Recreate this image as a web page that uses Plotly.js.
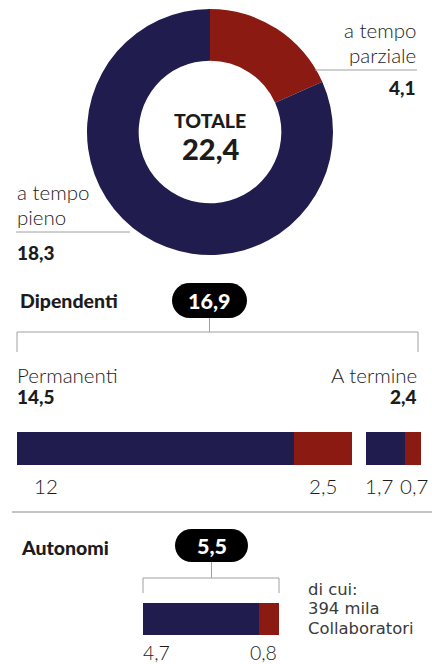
<!DOCTYPE html>
<html>
<head>
<meta charset="utf-8">
<script src="https://cdn.plot.ly/plotly-3.0.1.min.js"></script>
<style>
  html, body { margin: 0; padding: 0; background: #ffffff; }
  #chart { width: 432px; height: 664px; }
</style>
</head>
<body>
<div id="chart"></div>
<script>
// ---- data ----
const donutLabels = ['a tempo parziale', 'a tempo pieno'];
const donutValues = [4.1, 18.3];
const donutTotal = 22.4;

const dipLabel = 'Dipendenti';
const dipTotal = 16.9;
const dipCategories = ['Permanenti', 'A termine'];
const dipTotals = [14.5, 2.4];
const dipNavy = [12, 1.7];
const dipRed = [2.5, 0.7];

const autLabel = 'Autonomi';
const autTotal = 5.5;
const autNavy = [4.7];
const autRed = [0.8];
const autNote = ['di cui:', '394 mila', 'Collaboratori'];

// ---- styles ----
const W = 432, H = 664;
const NAVY = '#211c4e';
const RED = '#8b1b12';
const GREY = '#a0a0a0';
const FONT = 'Lato, "Open Sans", sans-serif';
const NOTE_FONT = '"DejaVu Sans", Lato, sans-serif';
const INK = '#1c1c1c';
const px = x => x / W;
const py = y => 1 - y / H;
const fmt = v => Number.isInteger(v) ? String(v) : v.toFixed(1).replace('.', ',');

const GAP = 0.6;

const traces = [
  {
    type: 'pie',
    labels: donutLabels,
    values: donutValues,
    marker: { colors: [RED, NAVY], line: { width: 0 } },
    hole: 0.58,
    sort: false,
    direction: 'clockwise',
    rotation: 0,
    textinfo: 'none',
    hoverinfo: 'skip',
    showlegend: false,
    domain: { x: [px(210 - 123), px(210 + 123)], y: [py(132 + 123), py(132 - 123)] }
  },
  {
    type: 'bar', orientation: 'h',
    y: dipNavy.map(() => 0),
    x: dipNavy,
    base: [0, dipTotals[0] + GAP],
    width: 1,
    marker: { color: NAVY, line: { width: 0 } },
    xaxis: 'x', yaxis: 'y', hoverinfo: 'skip', showlegend: false
  },
  {
    type: 'bar', orientation: 'h',
    y: dipRed.map(() => 0),
    x: dipRed,
    base: [dipNavy[0], dipTotals[0] + GAP + dipNavy[1]],
    width: 1,
    marker: { color: RED, line: { width: 0 } },
    xaxis: 'x', yaxis: 'y', hoverinfo: 'skip', showlegend: false
  },
  {
    type: 'bar', orientation: 'h',
    y: [0], x: autNavy, base: [0], width: 1,
    marker: { color: NAVY, line: { width: 0 } },
    xaxis: 'x2', yaxis: 'y2', hoverinfo: 'skip', showlegend: false
  },
  {
    type: 'bar', orientation: 'h',
    y: [0], x: autRed, base: [autNavy[0]], width: 1,
    marker: { color: RED, line: { width: 0 } },
    xaxis: 'x2', yaxis: 'y2', hoverinfo: 'skip', showlegend: false
  }
];

function pill(x0, x1, y0, y1) {
  const r = (y1 - y0) / 2, k = 0.5523 * r;
  const P = (x, y) => px(x) + ',' + py(y);
  return 'M' + P(x0 + r, y0) +
    ' L' + P(x1 - r, y0) +
    ' C' + P(x1 - r + k, y0) + ' ' + P(x1, y0 + r - k) + ' ' + P(x1, y0 + r) +
    ' C' + P(x1, y0 + r + k) + ' ' + P(x1 - r + k, y1) + ' ' + P(x1 - r, y1) +
    ' L' + P(x0 + r, y1) +
    ' C' + P(x0 + r - k, y1) + ' ' + P(x0, y0 + r + k) + ' ' + P(x0, y0 + r) +
    ' C' + P(x0, y0 + r - k) + ' ' + P(x0 + r - k, y0) + ' ' + P(x0 + r, y0) + ' Z';
}
function line(x0, y0, x1, y1, color, w) {
  return { type: 'line', xref: 'paper', yref: 'paper', x0: px(x0), y0: py(y0), x1: px(x1), y1: py(y1),
    line: { color: color || GREY, width: w || 1 } };
}
function txt(text, x, y, opts) {
  opts = opts || {};
  return {
    text: text, xref: opts.xref || 'paper', yref: 'paper',
    x: opts.xref ? x : px(x), y: py(y),
    xanchor: opts.xanchor || 'left', yanchor: 'middle',
    xshift: opts.xshift || 0,
    showarrow: false,
    font: { family: opts.family || FONT, size: opts.size || 20.5, color: opts.color || INK, weight: opts.weight || 300 },
    align: opts.xanchor === 'right' ? 'right' : 'left'
  };
}

const shapes = [
  line(315, 70, 417, 70),
  line(16, 232, 130, 232),
  { type: 'path', xref: 'paper', yref: 'paper', path: pill(172, 247, 283, 318), fillcolor: '#000000', line: { width: 0 } },
  line(209.5, 318, 209.5, 332),
  line(17, 332, 418, 332),
  line(17, 332, 17, 352),
  line(418, 332, 418, 352),
  line(12, 512, 432, 512, '#8a8a8a'),
  { type: 'path', xref: 'paper', yref: 'paper', path: pill(175, 248, 529, 562), fillcolor: '#000000', line: { width: 0 } },
  line(211.5, 562, 211.5, 578),
  line(143, 578, 279, 578),
  line(143, 578, 143, 593),
  line(279, 578, 279, 593)
];

const NOTE_STYLE = { family: NOTE_FONT, size: 16.4, weight: 400, color: '#3a3a3a' };

const annotations = [
  txt('a tempo', 418, 30, { xanchor: 'right' }),
  txt('parziale', 418, 55, { xanchor: 'right' }),
  txt(fmt(donutValues[0]), 418, 88, { xanchor: 'right', weight: 900, size: 19 }),
  txt('a tempo', 15, 192),
  txt('pieno', 15, 217),
  txt(fmt(donutValues[1]), 15, 252, { weight: 900, size: 19 }),
  txt('TOTALE', 210, 120, { xanchor: 'center', weight: 900, size: 19.5 }),
  txt(fmt(donutTotal), 210, 148, { xanchor: 'center', weight: 900, size: 29 }),

  txt(dipLabel, 18, 300, { weight: 900, size: 19.5 }),
  txt(fmt(dipTotal), 209.5, 300.5, { xanchor: 'center', weight: 900, size: 21.5, color: '#ffffff' }),
  txt(dipCategories[0], 15, 375),
  txt(fmt(dipTotals[0]), 15, 396, { weight: 900, size: 19 }),
  txt(dipCategories[1], 419, 375, { xanchor: 'right' }),
  txt(fmt(dipTotals[1]), 419, 396, { xanchor: 'right', weight: 900, size: 19 }),
  txt(fmt(dipNavy[0]), 32, 486),
  txt(fmt(dipRed[0]), dipNavy[0] + dipRed[0] / 2, 486, { xref: 'x', xanchor: 'center' }),
  txt(fmt(dipNavy[1]), dipTotals[0] + GAP + dipNavy[1] / 2, 486, { xref: 'x', xanchor: 'center', xshift: -6 }),
  txt(fmt(dipRed[1]), dipTotals[0] + GAP + dipNavy[1] + dipRed[1] / 2, 486, { xref: 'x', xanchor: 'center', xshift: 1 }),

  txt(autLabel, 19, 547, { weight: 900, size: 19.5 }),
  txt(fmt(autTotal), 211.5, 546, { xanchor: 'center', weight: 900, size: 21.5, color: '#ffffff' }),
  txt(fmt(autNavy[0]), 0, 652, { xref: 'x2', xanchor: 'left', size: 19.5, xshift: -2 }),
  txt(fmt(autRed[0]), autTotal, 652, { xref: 'x2', xanchor: 'right', size: 19.5 }),
  txt(autNote[0], 306, 589.3, NOTE_STYLE),
  txt(autNote[1], 306, 608.8, NOTE_STYLE),
  txt(autNote[2], 306, 628.3, NOTE_STYLE)
];

const axisOff = { visible: false, fixedrange: true, showgrid: false, zeroline: false };

const layout = {
  width: W, height: H,
  margin: { l: 0, r: 0, t: 0, b: 0, pad: 0 },
  paper_bgcolor: '#ffffff', plot_bgcolor: 'rgba(0,0,0,0)',
  showlegend: false,
  barmode: 'overlay',
  bargap: 0,
  xaxis: Object.assign({}, axisOff, { domain: [px(17), px(421)], range: [0, dipTotals[0] + GAP + dipTotals[1]], anchor: 'y' }),
  yaxis: Object.assign({}, axisOff, { domain: [py(465), py(432)], range: [-0.5, 0.5], anchor: 'x' }),
  xaxis2: Object.assign({}, axisOff, { domain: [px(143), px(279)], range: [0, autTotal], anchor: 'y2' }),
  yaxis2: Object.assign({}, axisOff, { domain: [py(635), py(603)], range: [-0.5, 0.5], anchor: 'x2' }),
  shapes: shapes,
  annotations: annotations,
  font: { family: FONT }
};

Plotly.newPlot('chart', traces, layout, { staticPlot: true, displayModeBar: false });
</script>
</body>
</html>
